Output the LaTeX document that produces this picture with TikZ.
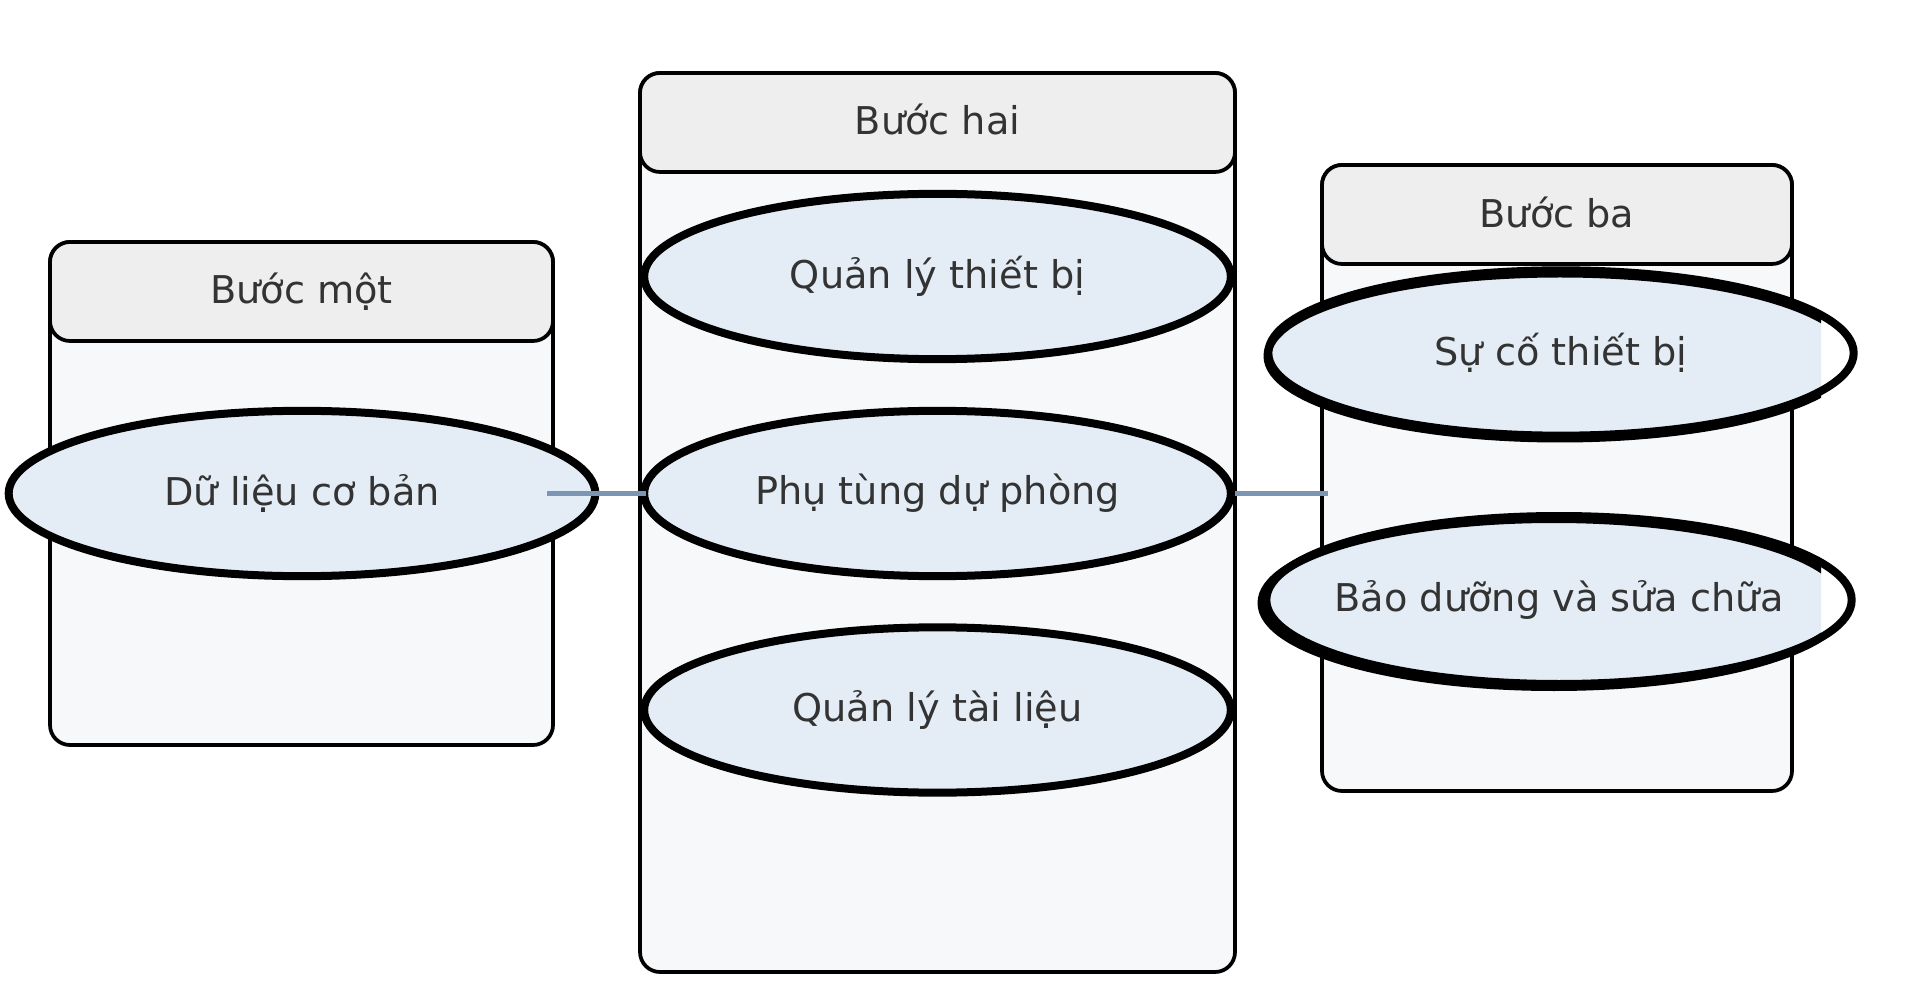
\documentclass[tikz,border=0pt]{standalone}
\usepackage{fontspec}
\setmainfont{DejaVu Sans}
\usetikzlibrary{shapes.geometric}
\definecolor{hdrfill}{HTML}{EEEEEE}
\definecolor{bodyfill}{HTML}{F6F8FA}
\definecolor{ellfill}{HTML}{E4ECF5}
\definecolor{txtcol}{HTML}{333333}
\definecolor{conncol}{HTML}{7B95B2}
\newcommand{\ztext}[1]{\makebox[0pt]{#1}}
\tikzset{
  x=0.75pt, y=-0.75pt,
  every node/.style={outer sep=0pt, inner sep=0pt, text=txtcol, font=\fontsize{28.7}{34}\selectfont},
  boxbody/.style={draw=black, fill=bodyfill, line width=2.8pt, rounded corners=15pt, rectangle},
  boxhead/.style={draw=black, fill=hdrfill, line width=2.8pt, rounded corners=15pt, rectangle},
  ellnode/.style={ellipse, draw=black, fill=ellfill, line width=6pt, minimum width=440pt, minimum height=124pt},
  ellnofill/.style={ellipse, draw=black, line width=6pt, minimum width=439pt, minimum height=124pt},
  conn/.style={draw=conncol, line width=4.3pt}
}
\begin{document}
\begin{tikzpicture}
\useasboundingbox[fill=white] (0,0) rectangle (1920,994);
% Step one
\node[boxbody, minimum width=377.25pt, minimum height=377.25pt] (b1) at (301.5,493.5) {};
\node[boxhead, minimum width=377.25pt, minimum height=74.25pt] (h1) at (301.5,291.5) {Bước một};
% Step two
\node[boxbody, minimum width=446.25pt, minimum height=674.25pt] (b2) at (937.5,522.5) {};
\node[boxhead, minimum width=446.25pt, minimum height=74.25pt] (h2) at (937.5,122.5) {\raisebox{5pt}{Bước hai}};
% Step three
\node[boxbody, minimum width=352.5pt, minimum height=469.5pt] (b3) at (1557,478) {};
\node[boxhead, minimum width=352.5pt, minimum height=74.25pt] (h3) at (1557,214.5) {\raisebox{3.5pt}{Bước ba}};
% ellipses
\node[ellnode] (e1) at (302,493.5) {\ztext{Dữ liệu cơ bản}};
\node[ellnode] (e2) at (937.5,276.5) {\ztext{Quản lý thiết bị}};
\node[ellnode] (e3) at (937.5,493.5) {\ztext{Phụ tùng dự phòng}};
\node[ellnode] (e4) at (937.5,710) {\ztext{Quản lý tài liệu}};
\begin{scope}
  \clip (0,0) rectangle (1821,994);
  \fill[ellfill] (1561,353) ellipse [x radius=292.5, y radius=82.5];
  \fill[ellfill] (1559,600) ellipse [x radius=292.5, y radius=84];
  \draw[line width=6pt] (1560,356) ellipse [x radius=292.5, y radius=82.5];
  \draw[line width=6pt] (1554,603) ellipse [x radius=292.5, y radius=84];
\end{scope}
\node[ellnofill] (e5) at (1561,353) {\ztext{Sự cố thiết bị}};
\node[ellnofill, minimum height=126pt] (e6) at (1559,600) {\ztext{Bảo dưỡng và sửa chữa}};
% connectors
\draw[conn] ([xshift=-4.5pt]b1.east) -- ([xshift=1.5pt]e3.west);
\draw[conn] ([xshift=3pt]e3.east) -- ([xshift=4.5pt]b3.west |- e3.east);
\end{tikzpicture}
\end{document}
